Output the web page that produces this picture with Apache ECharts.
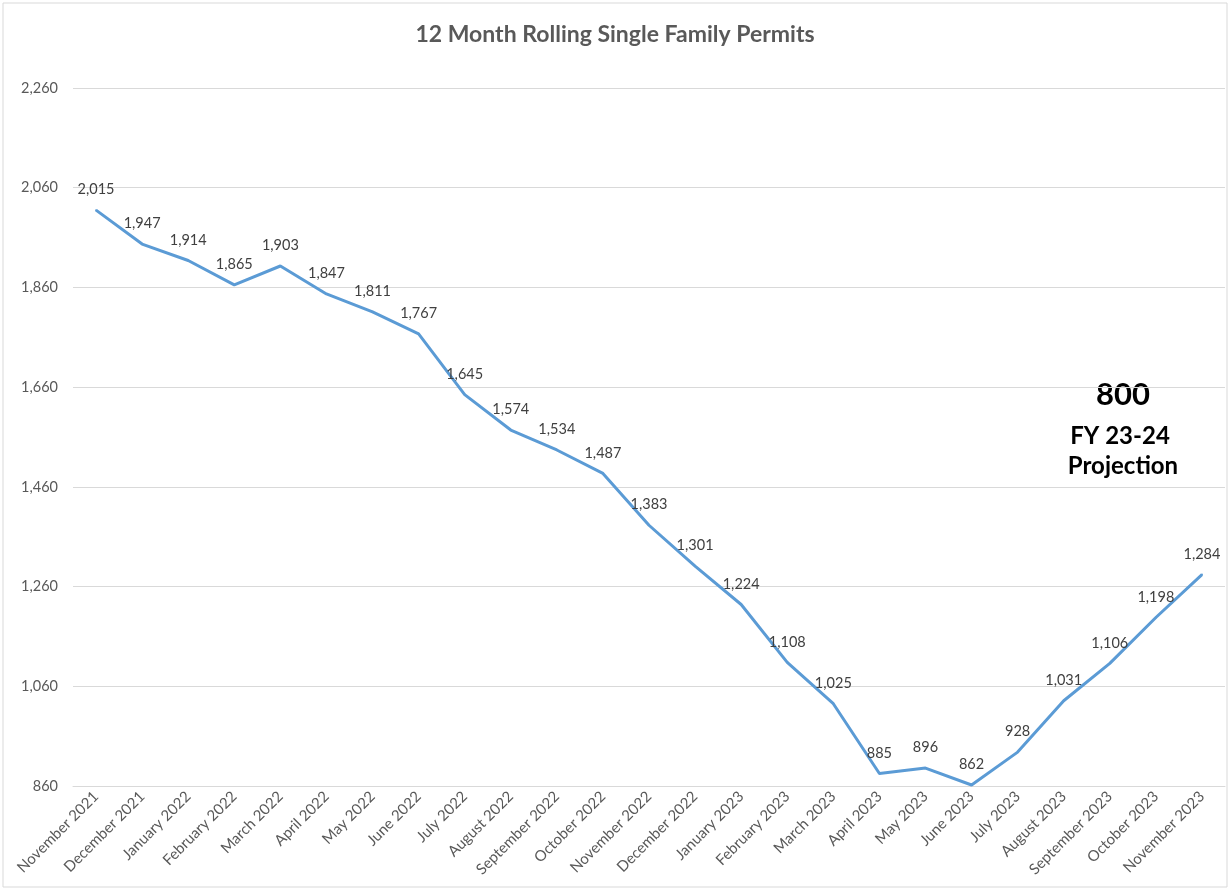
<!DOCTYPE html>
<html>
<head>
<meta charset="utf-8">
<script src="https://cdn.jsdelivr.net/npm/echarts@6/dist/echarts.min.js"></script>
<style>
  html, body { margin: 0; padding: 0; background: #fff; }
  #chart { width: 1230px; height: 893px; }
</style>
</head>
<body>
<div id="chart"></div>
<script>
const months = ['November 2021', 'December 2021', 'January 2022', 'February 2022', 'March 2022', 'April 2022',
  'May 2022', 'June 2022', 'July 2022', 'August 2022', 'September 2022', 'October 2022', 'November 2022',
  'December 2022', 'January 2023', 'February 2023', 'March 2023', 'April 2023', 'May 2023', 'June 2023',
  'July 2023', 'August 2023', 'September 2023', 'October 2023', 'November 2023']
const permits = [2015, 1947, 1914, 1865, 1903, 1847, 1811, 1767, 1645, 1574, 1534, 1487, 1383,
  1301, 1224, 1108, 1025, 885, 896, 862, 928, 1031, 1106, 1198, 1284]
const yMin = 860
const yMax = 2260
const yStep = 200

const fmt = (v) => Number(v).toLocaleString('en-US')
const font = 'Lato, "Open Sans", sans-serif'

const myChart = echarts.init(document.getElementById('chart'))
const option = {
    animation: false,
    title: {
        text: '12 Month Rolling Single Family Permits',
        left: 'center',
        top: 18,
        textStyle: { color: '#595959', fontSize: 23, fontWeight: 'bold', fontFamily: font }
    },
    grid: { left: 73, right: 5, top: 88, bottom: 107 },
    xAxis: {
        type: 'category',
        boundaryGap: true,
        data: months,
        axisLine: { lineStyle: { color: '#d9d9d9' } },
        axisTick: { show: false },
        axisLabel: {
            interval: 0,
            rotate: 45,
            margin: 8,
            color: '#595959',
            fontSize: 15,
            fontFamily: font
        }
    },
    yAxis: {
        type: 'value',
        min: yMin,
        max: yMax,
        interval: yStep,
        axisLine: { show: false },
        axisTick: { show: false },
        axisLabel: { margin: 15, color: '#595959', fontSize: 14.5, fontFamily: font, formatter: fmt },
        splitLine: { lineStyle: { color: '#d9d9d9', width: 1 } }
    },
    series: [{
        type: 'line',
        data: permits,
        symbol: 'circle',
        symbolSize: 2,
        showSymbol: true,
        itemStyle: { color: '#5b9bd5' },
        lineStyle: { color: '#5b9bd5', width: 3 },
        label: {
            show: true,
            position: 'top',
            distance: 12,
            color: '#404040',
            fontSize: 14.5,
            fontFamily: font,
            formatter: (p) => fmt(p.value)
        },
        labelLayout: { hideOverlap: false }
    }],
    graphic: [
        {
            type: 'rect',
            shape: { x: 3, y: 3, width: 1224, height: 884 },
            style: { fill: 'none', stroke: '#d9d9d9', lineWidth: 1 },
            silent: true
        },
        {
            type: 'text',
            x: 1123, y: 395,
            style: { text: '800', fill: '#000', fontSize: 31, fontWeight: 'bold', fontFamily: font, textAlign: 'center', textVerticalAlign: 'middle' }
        },
        {
            type: 'text',
            x: 1120, y: 436,
            style: { text: 'FY 23-24', fill: '#000', fontSize: 24, fontWeight: 'bold', fontFamily: font, textAlign: 'center', textVerticalAlign: 'middle' }
        },
        {
            type: 'text',
            x: 1123, y: 466,
            style: { text: 'Projection', fill: '#000', fontSize: 24, fontWeight: 'bold', fontFamily: font, textAlign: 'center', textVerticalAlign: 'middle' }
        }
    ]
}
myChart.setOption(option)
</script>
</body>
</html>
